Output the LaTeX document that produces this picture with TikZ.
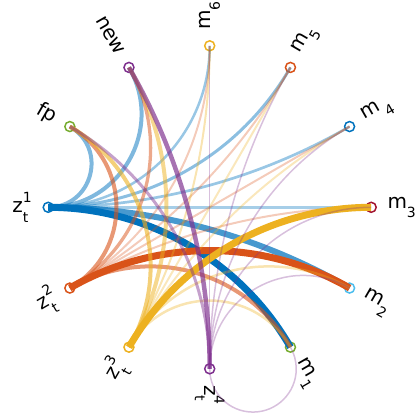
\documentclass[tikz,border=0pt]{standalone}
\usepackage{fontspec}
\setmainfont{DejaVu Sans}
\usetikzlibrary{calc}
\definecolor{cA}{rgb}{0,0.447,0.741}
\definecolor{cB}{rgb}{0.85,0.325,0.098}
\definecolor{cC}{rgb}{0.929,0.694,0.125}
\definecolor{cD}{rgb}{0.494,0.184,0.556}
\definecolor{cE}{rgb}{0.466,0.674,0.188}
\definecolor{cF}{rgb}{0.301,0.745,0.933}
\definecolor{cG}{rgb}{0.635,0.078,0.184}
\newcommand\subsz{\fontsize{14pt}{14pt}\selectfont}
\newcommand\zlab[1]{z\rlap{\raisebox{-9.5pt}{\subsz t}}\raisebox{10pt}{\subsz #1}}
\newcommand\mlab[1]{m\raisebox{-9.5pt}{\subsz #1}}
\tikzset{
  vtx/.style={circle, minimum size=10pt, inner sep=0pt, line width=1.5pt},
  lab/.style={inner sep=0pt, font=\fontsize{20pt}{24pt}\selectfont},
  lnk/.style={line cap=butt, line join=round}
}
\begin{document}
\begin{tikzpicture}[x=1pt,y=1pt]
\useasboundingbox (-209.7,-210.7) rectangle (209.3,207.3);
\def\R{161.5}
\def\RL{177.6}
\coordinate (O) at (0,0);
% vertices
\foreach \n/\a/\c in {z1/180/cA, z2/210/cB, z3/240/cC, z4/270/cD, m1/300/cE, m2/330/cF,
                      m3/0/cG, m4/30/cA, m5/60/cB, m6/90/cC, nw/120/cD, fp/150/cE}
  \node[vtx, draw=\c] (\n) at (\a:\R) {};
% labels
\node[lab, rotate=0,   anchor=west] (lm3) at (0:\RL)   {\mlab{3}};
\node[lab, rotate=30,  anchor=west] (lm4) at (30:\RL)  {\mlab{\kern3pt 4}};
\node[lab, rotate=60,  anchor=west] (lm5) at (60:\RL)  {\mlab{5}};
\node[lab, rotate=90,  anchor=west] (lm6) at (90:\RL)  {\mlab{6}};
\node[lab, rotate=-30, anchor=west] (lm2) at (330:\RL) {\mlab{2}};
\node[lab, rotate=-60, anchor=west] (lm1) at (300:\RL) {\mlab{1}};
\node[lab, rotate=-90, anchor=west] (lz4) at (270:\RL) {\zlab{4}};
\node[lab, rotate=-60, anchor=east] (lnw) at (120:\RL) {new};
\node[lab, rotate=-30, anchor=east] (lfp) at (150:\RL) {fp};
\node[lab, rotate=0,   anchor=east] (lz1) at (180:\RL) {\zlab{1}};
\node[lab, rotate=30,  anchor=east] (lz2) at (210:\RL) {\zlab{2}};
\node[lab, rotate=60,  anchor=east] (lz3) at (240:\RL) {\zlab{3}};
% edges
\foreach \a/\ta/\b/\tb/\c/\w/\o in {
  z1/180/fp/150/cA/4/0.5, z1/180/nw/120/cA/4/0.5, z1/180/m6/90/cA/2.5/0.4,
  z1/180/m5/60/cA/3/0.45, z1/180/m4/30/cA/2.7/0.4, z1/180/m3/0/cA/3/0.35,
  z1/180/m2/330/cA/6/0.72, z1/180/m1/300/cA/7/1,
  z2/210/fp/150/cB/4/0.6, z2/210/nw/120/cB/3.3/0.5, z2/210/m6/90/cB/2/0.3,
  z2/210/m5/60/cB/2/0.3, z2/210/m4/30/cB/2/0.3, z2/210/m3/0/cB/2/0.3,
  z2/210/m2/330/cB/7/1, z2/210/m1/300/cB/4/0.6,
  z3/240/fp/150/cC/4/0.6, z3/240/nw/120/cC/4/0.5, z3/240/m6/90/cC/2/0.35,
  z3/240/m5/60/cC/2/0.3, z3/240/m4/30/cC/2/0.3, z3/240/m3/0/cC/7/1,
  z3/240/m2/330/cC/2.5/0.35, z3/240/m1/300/cC/2.5/0.35,
  z4/270/fp/150/cD/3/0.45, z4/270/nw/120/cD/4.5/0.68, z4/270/m6/90/cD/1.5/0.3,
  z4/270/m5/60/cD/1.5/0.3, z4/270/m4/30/cD/1.5/0.3, z4/270/m3/0/cD/1.5/0.3,
  z4/270/m2/330/cD/1.5/0.3}{
  \pgfmathsetmacro\dd{abs(\ta-\tb)}
  \pgfmathsetmacro\dd{min(\dd,360-\dd)}
  \pgfmathsetmacro\LL{4/3*sin(\dd/2)/(1+sin(\dd/2))}
  \draw[lnk, draw=\c, line width=\w, draw opacity=\o]
    (\a.center) .. controls ($(\a.center)!\LL!(O)$) and ($(\b.center)!\LL!(O)$) .. (\b.center);
}
% z4 -- m1 drawn around the outside
\draw[lnk, draw=cD, line width=1.5, draw opacity=0.3]
  (z4.center) arc[start angle=180, end angle=390, radius=43.27];
\end{tikzpicture}
\end{document}
